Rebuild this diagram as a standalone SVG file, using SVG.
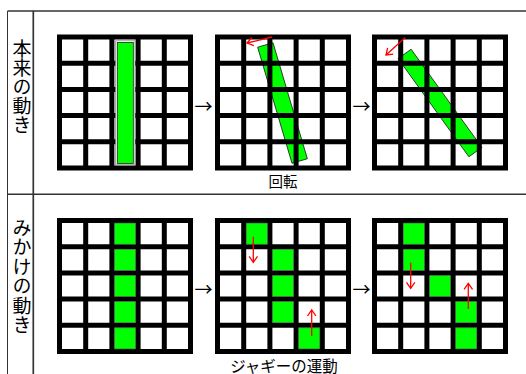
<svg xmlns="http://www.w3.org/2000/svg" width="526" height="374" viewBox="0 0 526 374">
<style>
.lbl{font-family:"Noto Sans CJK JP","Noto Sans CJK SC",sans-serif;fill:#000}
.side{font-size:19px;writing-mode:vertical-rl;text-anchor:start}
.cap{font-size:14.5px;text-anchor:middle}
.arr{font-size:18px;text-anchor:middle}
.grid{fill:none;stroke:#000;stroke-width:5}
.bg{fill:#fff}
.bar{fill:#00ff00;stroke:#222;stroke-width:0.8}
.cell{fill:#00ff00;stroke:#444;stroke-width:0.6}
.mv{stroke:#ff0000;stroke-width:1.3;fill:none;marker-end:url(#ah)}
.tbl{stroke:#333;fill:none}
</style>
<defs>
<marker id="ah" markerUnits="userSpaceOnUse" markerWidth="12" markerHeight="12" refX="0" refY="0" viewBox="-8 -6 10 12" orient="auto" overflow="visible"><path d="M-6,-4.2L0,0L-6,4.2" fill="none" stroke="#ff0000" stroke-width="1.3"/></marker>
<path id="gl" class="grid" d="M2.5 0V136M28.7 0V136M54.9 0V136M81.1 0V136M107.3 0V136M133.5 0V136M0 2.5H136M0 28.7H136M0 54.9H136M0 81.1H136M0 107.3H136M0 133.5H136"/>
</defs>
<g id="table">
<line class="tbl" x1="7.5" y1="11" x2="526" y2="11" stroke-width="1.5"/>
<line class="tbl" x1="7.5" y1="194.3" x2="526" y2="194.3" stroke-width="1.5"/>
<line class="tbl" x1="7.5" y1="11" x2="7.5" y2="374" stroke-width="1"/>
<line class="tbl" x1="33.3" y1="11" x2="33.3" y2="374" stroke-width="1.7" stroke="#000"/>
</g>
<g id="label-top">
<text class="lbl side" x="22" y="39.5">本来の動き</text>
</g>
<g id="label-bottom">
<text class="lbl side" x="22" y="218" style="letter-spacing:0.5px">みかけの動き</text>
</g>
<g id="grid1" transform="translate(57,34.5)">
<rect class="bg" width="136" height="136"/>
<use href="#gl"/>
<rect x="58.7" y="6.3" width="19.3" height="124" fill="#fff" stroke="#888" stroke-width="0.8"/>
<rect class="bar" x="60.3" y="8" width="16" height="121"/>
</g>
<g id="grid2" transform="translate(215,34.5)">
<rect class="bg" width="136" height="136"/>
<rect class="bar" x="-8" y="-60.5" width="16" height="121" transform="translate(67.5,68.5) rotate(-16.5)"/>
<use href="#gl"/>
<line class="mv" x1="57" y1="2.5" x2="32" y2="8.5"/>
</g>
<g id="grid3" transform="translate(372,34.5)">
<rect class="bg" width="136" height="136"/>
<rect class="bar" x="-8" y="-60.5" width="16" height="121" transform="translate(68,68.5) rotate(-35.8)"/>
<use href="#gl"/>
<line class="mv" x1="33.3" y1="3" x2="14" y2="20.5"/>
</g>
<g id="grid4" transform="translate(57,218)">
<rect class="bg" width="136" height="136"/>
<use href="#gl"/>
<rect class="cell" x="57.4" y="5" width="21.2" height="21.2"/>
<rect class="cell" x="57.4" y="31.2" width="21.2" height="21.2"/>
<rect class="cell" x="57.4" y="57.4" width="21.2" height="21.2"/>
<rect class="cell" x="57.4" y="83.6" width="21.2" height="21.2"/>
<rect class="cell" x="57.4" y="109.8" width="21.2" height="21.2"/>
</g>
<g id="grid5" transform="translate(215,218)">
<rect class="bg" width="136" height="136"/>
<use href="#gl"/>
<rect class="cell" x="31.2" y="5" width="21.2" height="21.2"/>
<rect class="cell" x="57.4" y="31.2" width="21.2" height="21.2"/>
<rect class="cell" x="57.4" y="57.4" width="21.2" height="21.2"/>
<rect class="cell" x="57.4" y="83.6" width="21.2" height="21.2"/>
<rect class="cell" x="83.6" y="109.8" width="21.2" height="21.2"/>
<line class="mv" x1="38.3" y1="18.7" x2="38.3" y2="44.3"/>
<line class="mv" x1="96.7" y1="117.7" x2="96.7" y2="92"/>
</g>
<g id="grid6" transform="translate(372,218)">
<rect class="bg" width="136" height="136"/>
<use href="#gl"/>
<rect class="cell" x="31.2" y="5" width="21.2" height="21.2"/>
<rect class="cell" x="31.2" y="31.2" width="21.2" height="21.2"/>
<rect class="cell" x="57.4" y="57.4" width="21.2" height="21.2"/>
<rect class="cell" x="83.6" y="83.6" width="21.2" height="21.2"/>
<rect class="cell" x="83.6" y="109.8" width="21.2" height="21.2"/>
<line class="mv" x1="38.7" y1="44.7" x2="38.7" y2="70.3"/>
<line class="mv" x1="96.3" y1="91" x2="96.3" y2="65.3"/>
</g>
<g id="connectors">
<text class="lbl arr" x="203.5" y="112.5">→</text>
<text class="lbl arr" x="361.5" y="112.5">→</text>
<text class="lbl arr" x="203.5" y="295.5">→</text>
<text class="lbl arr" x="361.5" y="295.5">→</text>
</g>
<g id="captions">
<text class="lbl cap" x="283" y="187">回転</text>
<text class="lbl cap" x="284" y="371.5" style="font-size:15.5px">ジャギーの運動</text>
</g>
</svg>
